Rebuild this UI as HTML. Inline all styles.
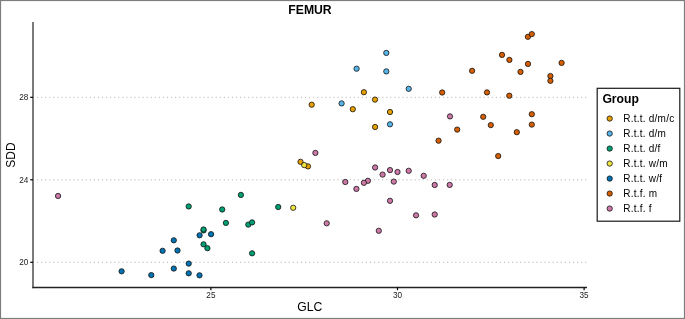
<!DOCTYPE html>
<html><head><meta charset="utf-8"><title>FEMUR</title>
<style>
html,body{margin:0;padding:0;background:#fff;}
svg{display:block;font-family:"Liberation Sans",Arial,Helvetica,sans-serif;}
.pt{stroke:#111;stroke-width:0.8}
.tk{font-size:8.2px;fill:#1a1a1a}
.lg{font-size:10px;letter-spacing:0.24px;fill:#000}
</style></head><body>
<svg width="685" height="319" viewBox="0 0 685 319">
<rect x="0" y="0" width="685" height="319" fill="#fff"/>

<line x1="37" y1="97.3" x2="587" y2="97.3" stroke="#b9b9b9" stroke-width="1" stroke-dasharray="1.2 2.86"/>
<line x1="37" y1="179.8" x2="587" y2="179.8" stroke="#b9b9b9" stroke-width="1" stroke-dasharray="1.2 2.86"/>
<line x1="37" y1="262.3" x2="587" y2="262.3" stroke="#b9b9b9" stroke-width="1" stroke-dasharray="1.2 2.86"/>
<g class="pt" fill="#E69F00">
<circle cx="311.7" cy="104.7" r="2.65"/>
<circle cx="352.8" cy="109.2" r="2.65"/>
<circle cx="363.9" cy="92.2" r="2.65"/>
<circle cx="375.0" cy="99.6" r="2.65"/>
<circle cx="390.0" cy="112.0" r="2.65"/>
<circle cx="375.1" cy="127.0" r="2.65"/>
<circle cx="300.5" cy="161.8" r="2.65"/>
<circle cx="308.0" cy="166.4" r="2.65"/>
</g>
<g class="pt" fill="#56B4E9">
<circle cx="386.3" cy="52.9" r="2.65"/>
<circle cx="356.6" cy="68.7" r="2.65"/>
<circle cx="386.3" cy="71.4" r="2.65"/>
<circle cx="408.7" cy="88.8" r="2.65"/>
<circle cx="341.6" cy="103.4" r="2.65"/>
<circle cx="390.0" cy="124.3" r="2.65"/>
</g>
<g class="pt" fill="#0072B2">
<circle cx="173.8" cy="240.3" r="2.65"/>
<circle cx="162.6" cy="250.8" r="2.65"/>
<circle cx="177.5" cy="250.5" r="2.65"/>
<circle cx="188.7" cy="263.6" r="2.65"/>
<circle cx="199.6" cy="235.3" r="2.65"/>
<circle cx="211.05" cy="234.2" r="2.65"/>
<circle cx="121.6" cy="271.3" r="2.65"/>
<circle cx="151.3" cy="275.1" r="2.65"/>
<circle cx="173.8" cy="268.55" r="2.65"/>
<circle cx="188.7" cy="273.3" r="2.65"/>
<circle cx="199.5" cy="275.3" r="2.65"/>
</g>
<g class="pt" fill="#009E73">
<circle cx="188.7" cy="206.45" r="2.65"/>
<circle cx="222.2" cy="209.5" r="2.65"/>
<circle cx="240.9" cy="194.9" r="2.65"/>
<circle cx="225.9" cy="222.9" r="2.65"/>
<circle cx="248.3" cy="224.6" r="2.65"/>
<circle cx="252.1" cy="222.4" r="2.65"/>
<circle cx="203.55" cy="230.4" r="2.65"/>
<circle cx="203.55" cy="229.5" r="2.65"/>
<circle cx="203.55" cy="244.3" r="2.65"/>
<circle cx="207.4" cy="248.2" r="2.65"/>
<circle cx="252.1" cy="253.3" r="2.65"/>
<circle cx="278.2" cy="207.0" r="2.65"/>
</g>
<g class="pt" fill="#F0E442">
<circle cx="293.2" cy="207.8" r="2.65"/>
<circle cx="304.2" cy="165.1" r="2.65"/>
</g>
<g class="pt" fill="#D55E00">
<circle cx="442.2" cy="92.5" r="2.65"/>
<circle cx="472.1" cy="70.8" r="2.65"/>
<circle cx="487" cy="92.4" r="2.65"/>
<circle cx="502" cy="54.9" r="2.65"/>
<circle cx="509.4" cy="59.9" r="2.65"/>
<circle cx="509.3" cy="95.7" r="2.65"/>
<circle cx="520.5" cy="71.9" r="2.65"/>
<circle cx="528" cy="63.9" r="2.65"/>
<circle cx="527.9" cy="36.8" r="2.65"/>
<circle cx="531.8" cy="34.1" r="2.65"/>
<circle cx="550.4" cy="76.05" r="2.65"/>
<circle cx="550.4" cy="80.8" r="2.65"/>
<circle cx="561.6" cy="62.9" r="2.65"/>
<circle cx="457.2" cy="129.6" r="2.65"/>
<circle cx="483.2" cy="116.8" r="2.65"/>
<circle cx="490.8" cy="125.1" r="2.65"/>
<circle cx="516.8" cy="132.2" r="2.65"/>
<circle cx="531.8" cy="114.2" r="2.65"/>
<circle cx="531.8" cy="124.6" r="2.65"/>
<circle cx="498.2" cy="156.05" r="2.65"/>
<circle cx="438.55" cy="140.7" r="2.65"/>
</g>
<g class="pt" fill="#CC79A7">
<circle cx="58.07" cy="195.96" r="2.65"/>
<circle cx="315.4" cy="152.9" r="2.65"/>
<circle cx="326.7" cy="223.3" r="2.65"/>
<circle cx="345.3" cy="182.0" r="2.65"/>
<circle cx="356.4" cy="188.9" r="2.65"/>
<circle cx="367.9" cy="180.8" r="2.65"/>
<circle cx="363.9" cy="182.8" r="2.65"/>
<circle cx="375.1" cy="167.5" r="2.65"/>
<circle cx="382.6" cy="174.6" r="2.65"/>
<circle cx="390.0" cy="170.1" r="2.65"/>
<circle cx="393.8" cy="181.6" r="2.65"/>
<circle cx="397.5" cy="172.0" r="2.65"/>
<circle cx="408.7" cy="170.8" r="2.65"/>
<circle cx="423.7" cy="175.8" r="2.65"/>
<circle cx="434.7" cy="185.0" r="2.65"/>
<circle cx="449.7" cy="184.9" r="2.65"/>
<circle cx="390.0" cy="200.8" r="2.65"/>
<circle cx="416.05" cy="215.3" r="2.65"/>
<circle cx="434.7" cy="214.5" r="2.65"/>
<circle cx="378.8" cy="230.8" r="2.65"/>
<circle cx="450.0" cy="116.4" r="2.65"/>
</g>
<line x1="33" y1="22" x2="33" y2="288.2" stroke="#000" stroke-width="1.04"/>
<line x1="32.4" y1="287.5" x2="587" y2="287.5" stroke="#222" stroke-width="1.4"/>
<line x1="30.2" y1="97.3" x2="33" y2="97.3" stroke="#000" stroke-width="1.2"/>
<text class="tk" x="28.4" y="100.2" text-anchor="end">28</text>
<line x1="30.2" y1="179.8" x2="33" y2="179.8" stroke="#000" stroke-width="1.2"/>
<text class="tk" x="28.4" y="182.70000000000002" text-anchor="end">24</text>
<line x1="30.2" y1="262.3" x2="33" y2="262.3" stroke="#000" stroke-width="1.2"/>
<text class="tk" x="28.4" y="265.2" text-anchor="end">20</text>
<line x1="210.9" y1="287.4" x2="210.9" y2="290.2" stroke="#000" stroke-width="1.2"/>
<text class="tk" x="210.9" y="298" text-anchor="middle">25</text>
<line x1="397.5" y1="287.4" x2="397.5" y2="290.2" stroke="#000" stroke-width="1.2"/>
<text class="tk" x="397.5" y="298" text-anchor="middle">30</text>
<line x1="584.1" y1="287.4" x2="584.1" y2="290.2" stroke="#000" stroke-width="1.2"/>
<text class="tk" x="584.1" y="298" text-anchor="middle">35</text>
<text x="310" y="14.4" text-anchor="middle" font-size="12.2" font-weight="bold" fill="#000">FEMUR</text>
<text x="309.9" y="310.6" text-anchor="middle" font-size="12.2" fill="#000">GLC</text>
<text transform="translate(14.8,155.1) rotate(-90)" text-anchor="middle" font-size="12" fill="#000">SDD</text>
<rect x="597.2" y="88.3" width="82.6" height="132.9" fill="#fff" stroke="#1a1a1a" stroke-width="1.2"/>
<text x="602.4" y="103.3" font-size="12.2" font-weight="bold" fill="#000">Group</text>
<circle class="pt" cx="609.7" cy="118.55" r="2.65" fill="#E69F00"/>
<text class="lg" x="623.2" y="122.25">R.t.t. d/m/c</text>
<circle class="pt" cx="609.7" cy="133.55" r="2.65" fill="#56B4E9"/>
<text class="lg" x="623.2" y="137.25">R.t.t. d/m</text>
<circle class="pt" cx="609.7" cy="148.55" r="2.65" fill="#009E73"/>
<text class="lg" x="623.2" y="152.25">R.t.t. d/f</text>
<circle class="pt" cx="609.7" cy="163.55" r="2.65" fill="#F0E442"/>
<text class="lg" x="623.2" y="167.25">R.t.t. w/m</text>
<circle class="pt" cx="609.7" cy="178.55" r="2.65" fill="#0072B2"/>
<text class="lg" x="623.2" y="182.25">R.t.t. w/f</text>
<circle class="pt" cx="609.7" cy="193.55" r="2.65" fill="#D55E00"/>
<text class="lg" x="623.2" y="197.25">R.t.f. m</text>
<circle class="pt" cx="609.7" cy="208.55" r="2.65" fill="#CC79A7"/>
<text class="lg" x="623.2" y="212.25">R.t.f. f</text>
<rect x="0" y="0" width="685" height="319" fill="none" stroke="#7d7d7d" stroke-width="2.2"/>
</svg></body></html>
